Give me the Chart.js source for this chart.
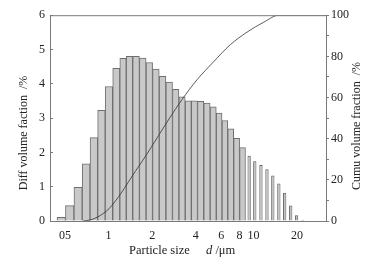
<!DOCTYPE html>
<html>
<head>
<meta charset="utf-8">
<script src="https://cdn.jsdelivr.net/npm/chart.js@4.4.1/dist/chart.umd.min.js"></script>
<style>
  html, body { margin: 0; padding: 0; background: #fff; }
  #wrap { width: 381px; height: 266px; }
</style>
</head>
<body>
<div id="wrap"><canvas id="psd" width="381" height="266"></canvas></div>
<script>
// particle size (um, bin centres) and differential volume fraction (%)
const sizes = [0.471, 0.539, 0.617, 0.700, 0.792, 0.892, 1.006, 1.134, 1.260, 1.392,
               1.547, 1.723, 1.911, 2.120, 2.359, 2.623, 2.909, 3.219, 3.550, 3.915,
               4.318, 4.777, 5.287, 5.804, 6.350, 6.966, 7.663, 8.412];
const diffVol = [0.11, 0.45, 0.98, 1.67, 2.43, 3.23, 3.92, 4.45, 4.74, 4.80,
                 4.80, 4.75, 4.62, 4.43, 4.22, 4.05, 3.84, 3.62, 3.50, 3.50,
                 3.49, 3.44, 3.33, 3.15, 2.93, 2.69, 2.41, 2.14];
// coarse tail, drawn as thin bars
const tailSizes = [9.34, 10.22, 11.27, 12.40, 13.61, 14.98, 16.44, 18.09, 19.85, 21.77];
const tailVol = [1.90, 1.74, 1.63, 1.51, 1.33, 1.09, 0.82, 0.45, 0.17, 0.04];
// cumulative volume fraction (%)
const cumuSizes = [0.666, 0.745, 0.833, 0.916, 1.008, 1.109, 1.220, 1.343, 1.526, 1.838,
                   2.212, 2.665, 3.212, 4.077, 5.313, 6.932, 9.046, 11.79, 14.97, 31.6];
const cumuVol = [0, 0.5, 1.8, 3.6, 6, 9.5, 13.5, 18, 24, 32.5,
                 41.5, 50.5, 59, 68.6, 77.4, 85.7, 91.8, 96.6, 100, 100];

const xTicks = [0.5, 1, 2, 4, 6, 8, 10, 20];
const xTickLabels = ['05', '1', '2', '4', '6', '8', '10', '20'];
const leftTitle = 'Diff volume faction  /%';
const rightTitle = 'Cumu volume fraction  /%';
const xTitle = ['Particle size', 'd', ' /\u03bcm'];

const serif = '"Liberation Serif", "Times New Roman", serif';
const axisGray = '#7a7a7a';
Chart.defaults.font.family = serif;
Chart.defaults.color = '#222';

// top border of the plot + axis titles (d in italic)
const frameTitles = {
    id: 'frameTitles',
    afterDraw(chart) {
        const { ctx, chartArea: a } = chart;
        ctx.save();
        ctx.strokeStyle = axisGray;
        ctx.lineWidth = 1;
        ctx.beginPath();
        ctx.moveTo(a.left, a.top + 0.5);
        ctx.lineTo(a.right, a.top + 0.5);
        ctx.stroke();

        ctx.fillStyle = '#222';
        ctx.font = '12px ' + serif;
        ctx.textAlign = 'center';
        ctx.textBaseline = 'middle';
        ctx.save();
        ctx.translate(24, 133);
        ctx.rotate(-Math.PI / 2);
        ctx.fillText(leftTitle, 0, 0);
        ctx.restore();
        ctx.save();
        ctx.translate(357, 126);
        ctx.rotate(-Math.PI / 2);
        ctx.fillText(rightTitle, 0, 0);
        ctx.restore();

        ctx.textAlign = 'left';
        ctx.textBaseline = 'alphabetic';
        ctx.font = '12.5px ' + serif;
        ctx.fillText(xTitle[0], 129, 254);
        ctx.font = 'italic 12.5px ' + serif;
        ctx.fillText(xTitle[1], 206, 254);
        const dw = ctx.measureText(xTitle[1]).width;
        ctx.font = '12.5px ' + serif;
        ctx.fillText(xTitle[2], 206 + dw, 254);
        ctx.restore();
    }
};

new Chart(document.getElementById('psd'), {
    type: 'bar',
    data: {
        datasets: [
            {
                type: 'line',
                data: cumuSizes.map((x, i) => ({ x: x, y: cumuVol[i] })),
                yAxisID: 'y1',
                borderColor: '#333',
                borderWidth: 0.8,
                pointRadius: 0,
                cubicInterpolationMode: 'monotone',
                order: 0
            },
            {
                data: sizes.map((x, i) => ({ x: x, y: diffVol[i] })),
                yAxisID: 'y',
                backgroundColor: '#c9c9c9',
                borderColor: '#6e6e6e',
                borderWidth: 1,
                barThickness: 'flex',
                barPercentage: 1,
                categoryPercentage: 1,
                order: 1
            },
            {
                data: tailSizes.map((x, i) => ({ x: x, y: tailVol[i] })),
                yAxisID: 'y',
                backgroundColor: '#bdbdbd',
                borderColor: '#5e5e5e',
                borderWidth: 1,
                grouped: false,
                barPercentage: 0.58,
                categoryPercentage: 1,
                order: 2
            }
        ]
    },
    options: {
        responsive: false,
        animation: false,
        layout: { padding: { top: 13, left: 0, right: 0, bottom: 0 } },
        plugins: { legend: { display: false }, tooltip: { enabled: false } },
        scales: {
            x: {
                type: 'logarithmic',
                min: 0.394,
                max: 31.7,
                afterBuildTicks: s => { s.ticks = xTicks.map(v => ({ value: v })); },
                afterFit: s => { s.height = 45; },
                ticks: {
                    autoSkip: false,
                    maxRotation: 0,
                    padding: 8,
                    font: { size: 12 },
                    callback: (v, i) => xTickLabels[i]
                },
                grid: { drawOnChartArea: false, drawTicks: false },
                border: { color: axisGray }
            },
            y: {
                position: 'left',
                min: 0,
                max: 6,
                afterFit: s => { s.width = 50; },
                ticks: {
                    stepSize: 0.5,
                    padding: 8,
                    font: { size: 12 },
                    callback: v => Number.isInteger(v) ? v : ''
                },
                grid: { drawOnChartArea: false, tickLength: -3, color: axisGray },
                border: { color: axisGray }
            },
            y1: {
                position: 'right',
                min: 0,
                max: 100,
                afterFit: s => { s.width = 55; },
                ticks: {
                    stepSize: 10,
                    padding: 2,
                    font: { size: 12 },
                    callback: v => v % 20 === 0 ? v : ''
                },
                grid: { drawOnChartArea: false, tickLength: 3, color: axisGray },
                border: { color: axisGray }
            }
        }
    },
    plugins: [frameTitles]
});
</script>
</body>
</html>
